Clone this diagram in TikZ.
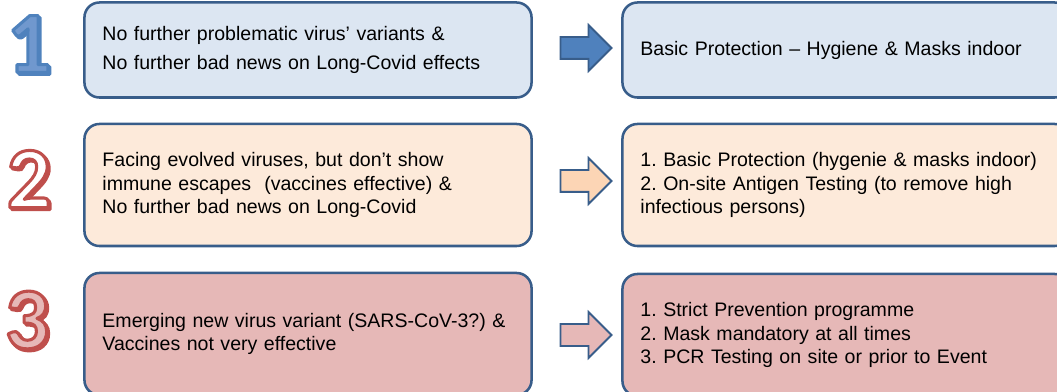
\documentclass[tikz,border=0pt]{standalone}
\usepackage{fontspec}
\setmainfont{Liberation Sans}
\newfontfamily\digitfont{Carlito}
\usetikzlibrary{shapes.arrows}
\definecolor{frameblue}{RGB}{56,93,138}
\definecolor{fillone}{RGB}{220,230,242}
\definecolor{filltwo}{RGB}{253,234,218}
\definecolor{fillthree}{RGB}{230,184,183}
\definecolor{arrowone}{RGB}{79,129,189}
\definecolor{arrowtwo}{RGB}{252,213,181}
\definecolor{digitblue}{RGB}{112,152,206}
\newcommand{\stagedigit}[6]{%
 \node[digit, text=#6, xshift=1.4pt, yshift=-1.4pt] ({#1s}) at ({#2}) {%
  \special{pdf:literal direct 2.2 w 1 j #5 RG 2 Tr}#3\special{pdf:literal direct 0 Tr}};%
 \node[digit, text=#4] ({#1}) at ({#2}) {%
  \special{pdf:literal direct 2.2 w 1 j #5 RG 2 Tr}#3\special{pdf:literal direct 0 Tr}};%
}
\tikzset{
 digit/.style={inner sep=0pt, font=\digitfont\bfseries\fontsize{62}{62}\selectfont},
 stagebox/.style={draw=frameblue, line width=1.8pt, rounded corners=0.375cm,
   minimum width=11.175cm, text width=10.275cm, inner xsep=0.45cm, align=left},
 wide/.style={font=\fontsize{13.9}{20}\selectfont},
 tight/.style={font=\fontsize{13.9}{16.8}\selectfont},
 blockarrow/.style={single arrow, draw=frameblue, line width=1.3pt, inner xsep=0pt,
   inner ysep=0.25cm, minimum height=1.275cm, single arrow head extend=0.3cm}
}
\frenchspacing
\begin{document}
\begin{tikzpicture}[x=0.025cm, y=-0.025cm]
  \useasboundingbox (0,0) rectangle (1057,392);
  \clip (0,0) rectangle (1057,392);
  \stagedigit{n1}{29,44}{1}{digitblue}{0.31 0.51 0.74}{arrowone}
  \stagedigit{n2}{29,179}{2}{white}{0.75 0.31 0.30}{red!45!black!75!white}
  \stagedigit{n3}{27,320}{3}{fillthree}{0.75 0.31 0.30}{fillthree}
  \node[stagebox, wide, fill=fillone, minimum height=2.375cm] (s1) at (308,50)
    {No further problematic virus' variants \&\\No further bad news on Long-Covid effects};
  \node[stagebox, tight, fill=filltwo, minimum height=3.05cm] (s2) at (308,185)
    {Facing evolved viruses, but don't show\\immune escapes~ (vaccines effective) \&\\No further bad news on Long-Covid};
  \node[stagebox, tight, fill=fillthree, minimum height=3.05cm] (s3) at (308,334)
    {Emerging new virus variant (SARS-CoV-3?) \&\\Vaccines not very effective};
  \node[stagebox, wide, fill=fillone, minimum height=2.375cm] (m1) at (846,50)
    {Basic Protection -- Hygiene \& Masks indoor};
  \node[stagebox, tight, fill=filltwo, minimum height=3.05cm] (m2) at (846,185)
    {1. Basic Protection (hygenie \& masks indoor)\\2. On-site Antigen Testing (to remove high\\infectious persons)};
  \node[stagebox, tight, fill=fillthree, minimum height=3.05cm] (m3) at (846,335)
    {1. Strict Prevention programme\\2. Mask mandatory at all times\\3. PCR Testing on site or prior to Event};
  \node[blockarrow, fill=arrowone] (a1) at (580.5,48) {};
  \node[blockarrow, fill=arrowtwo] (a2) at (580.5,181) {};
  \node[blockarrow, fill=fillthree] (a3) at (580.5,335) {};
\end{tikzpicture}
\end{document}
